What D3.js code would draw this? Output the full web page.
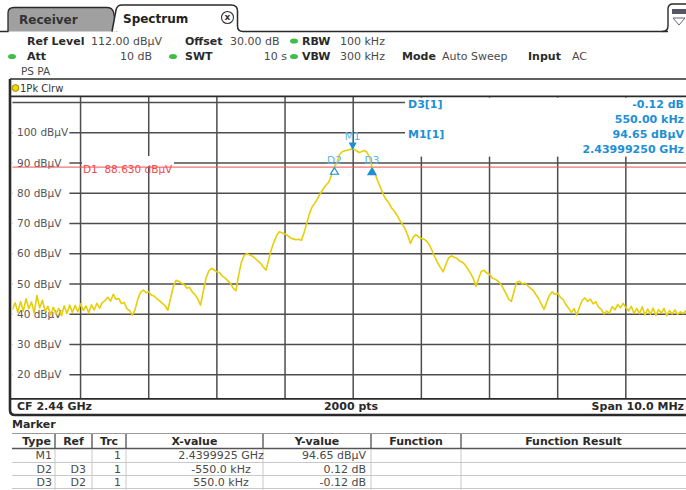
<!DOCTYPE html>
<html><head><meta charset="utf-8">
<script src="https://cdn.jsdelivr.net/npm/d3@7"></script>
<style>
html,body{margin:0;padding:0;background:#fff;overflow:hidden}
svg{display:block;font-family:"DejaVu Sans",Verdana,sans-serif}
text{white-space:pre}
</style></head><body>
<svg id="c" width="686" height="490"></svg>
<script>
// Sweep settings
const centerGHz = 2.44;
const spanMHz = 10;
const refLevel = 112;
const bottomLevel = 12;
const sweepPoints = "2000 pts";

// Level grid and labels (dBµV)
const gridLevels = [110, 100, 90, 80, 70, 60, 50, 40, 30, 20];
const yTickLevels = [100, 90, 80, 70, 60, 50, 40, 30, 20];
const yTickUnit = "dBµV";

// Trace 1 (1Pk Clrw), one value every 40 kHz from CF-5 MHz to CF+5 MHz
const traceDb = [
  41.5,43.8,40.6,44.2,41.0,45.1,41.8,44.0,40.4,46.2,42.1,44.6,40.9,
  42.6,39.8,42.3,40.1,41.9,39.5,42.8,40.2,43.0,
  40.6,42.9,40.8,43.4,41.2,42.7,40.5,43.1,41.4,43.6,42.0,
  43.9,44.5,45.6,44.3,46.6,44.9,45.2,43.5,43.9,41.8,41.2,39.7,
  41.5,45.0,47.2,48.0,
  47.1,47.4,46.3,46.0,45.1,44.4,43.6,42.8,41.3,
  45.2,49.0,51.2,
  50.9,50.2,49.8,48.6,48.9,47.3,46.5,45.0,43.0,
  47.5,51.8,54.3,55.2,
  54.6,54.0,53.7,52.6,52.0,51.1,50.2,48.6,47.8,
  53.0,57.2,59.4,60.1,
  59.6,59.2,58.5,57.6,56.9,55.6,54.6,
  58.0,61.5,64.0,66.2,67.3,
  66.8,66.5,66.0,65.2,64.9,64.6,64.8,64.4,
  67.0,70.1,73.4,75.6,76.8,78.3,80.0,81.4,82.6,83.6,85.8,88.6,90.0,92.8,93.7,94.0,94.3,94.5,
  94.65,
  94.2,93.5,93.7,94.1,93.6,91.8,88.5,86.5,84.0,81.9,79.6,78.0,76.9,75.2,74.2,72.8,71.2,69.8,68.3,66.0,63.4,
  65.4,66.3,65.6,65.0,64.8,64.1,62.8,60.9,58.8,57.0,55.4,54.0,
  56.5,58.6,59.3,58.8,58.5,57.6,57.2,56.4,55.0,53.6,51.9,49.2,
  51.8,54.2,54.5,53.6,53.2,52.0,51.6,51.0,50.1,48.6,46.9,45.0,44.2,
  47.6,50.6,50.9,50.0,50.3,49.4,48.6,47.9,46.5,45.2,43.3,41.6,
  44.0,46.3,47.4,46.5,46.9,45.6,44.8,43.2,42.0,40.6,41.8,39.7,
  42.4,44.6,45.4,44.2,45.0,43.4,44.1,42.3,41.6,40.1,
  41.0,40.3,42.5,41.4,43.2,42.1,43.6,42.2,41.1,42.6,40.3,41.9,40.2,42.4,39.8,41.7,40.0,42.0,39.6,41.5,40.4,41.9,39.5,41.2,40.1,41.4,39.9,40.8,40.2,41.1,39.8,40.7,40.3
];

// Markers
const markerNames  = ["M1", "D2", "D3"];
const markerFreqs  = [2.4399925, 2.439725, 2.440275];   // GHz
const markerLevels = [94.65, 88.75, 88.63];              // dBµV
const markerRefs   = ["", "D3", "D2"];
const markerTrc    = ["1", "1", "1"];
const markerXText  = ["2.4399925 GHz", "-550.0 kHz", "550.0 kHz"];
const markerYText  = ["94.65 dBµV", "0.12 dB", "-0.12 dB"];

// Display line D1
const displayLine = 88.63;
const displayLineText = "D1  88.630 dBµV";

// Marker readout
const readoutLabels = ["D3[1]", "M1[1]"];
const readoutValues = ["-0.12 dB", "550.00 kHz", "94.65 dBµV", "2.43999250 GHz"];

// Marker table header
const tableHeads = ["Type", "Ref", "Trc", "X-value", "Y-value", "Function", "Function Result"];

const svg = d3.select("#c");
const INK = "#2a2a2a", VAL = "#4a4a4a", BLUE = "#1e8fd6", LBLUE = "#5fb2e4";

function txt(x, y, s, o = {}) {
  return svg.append("text").attr("x", x).attr("y", y).attr("dy", "0.36em")
    .attr("font-size", o.size || 11).attr("font-weight", o.bold ? "bold" : "normal")
    .attr("fill", o.fill || VAL).attr("text-anchor", o.anchor || "start").text(s);
}
function dot(x, y) {
  svg.append("ellipse").attr("cx", x).attr("cy", y).attr("rx", 4).attr("ry", 2.6).attr("fill", "#3fbf4a");
}

// ---------- tabs ----------
svg.append("path").attr("d", "M0,31.5 L8,31.5 L8,13 Q8,7.5 14,7.5 L107,7.5 Q112,7.5 113.5,12 L117,31.5")
  .attr("fill", "#a0a0a0").attr("stroke", INK).attr("stroke-width", 1.3);
svg.append("path").attr("d", "M112,31.5 L116,10 Q117,5 122,5 L231,5 Q237.5,5 237.5,11 L237.5,26 Q237.5,31.5 243,31.5 L668,31.5")
  .attr("fill", "#fff").attr("stroke", INK).attr("stroke-width", 1.5);
txt(19, 19.5, "Receiver", {bold: true, size: 12, fill: "#333"});
txt(123, 18.5, "Spectrum", {bold: true, size: 12, fill: "#222"});
svg.append("circle").attr("cx", 227.5).attr("cy", 17.5).attr("r", 6).attr("fill", "#fff").attr("stroke", "#333").attr("stroke-width", 1.1);
txt(227.5, 17, "x", {bold: true, size: 9, anchor: "middle", fill: "#333"});
svg.append("path").attr("d", "M662,31.5 Q668,31.5 668,26 L668,9 Q668,4 673,4 L690,4")
  .attr("fill", "none").attr("stroke", INK).attr("stroke-width", 1.4);
svg.append("rect").attr("x", 672).attr("y", 9).attr("width", 14).attr("height", 5).attr("fill", "#556");
svg.append("path").attr("d", "M673,18 L685,18 L679,25 Z").attr("fill", "none").attr("stroke", "#667").attr("stroke-width", 1);

// ---------- settings rows ----------
txt(27, 41, "Ref Level", {bold: true, fill: INK});
txt(91, 41, "112.00 dBµV");
txt(185, 41, "Offset", {bold: true, fill: INK});
txt(230, 41, "30.00 dB");
dot(294, 41);
txt(302, 41, "RBW", {bold: true, fill: INK});
txt(340, 41, "100 kHz");

dot(12, 56.5);
txt(27, 56.5, "Att", {bold: true, fill: INK});
txt(152, 56.5, "10 dB", {anchor: "end"});
dot(173, 56.5);
txt(185, 56.5, "SWT", {bold: true, fill: INK});
txt(287, 56.5, "10 s", {anchor: "end"});
dot(294, 56.5);
txt(302, 56.5, "VBW", {bold: true, fill: INK});
txt(340, 56.5, "300 kHz");
txt(402, 56.5, "Mode", {bold: true, fill: INK});
txt(442, 56.5, "Auto Sweep");
txt(528, 56.5, "Input", {bold: true, fill: INK});
txt(572, 56.5, "AC");
txt(21, 71, "PS PA", {size: 10.5});

// ---------- plot geometry ----------
const x0 = 12.4, x1 = 694, yTop = 96.4, yBot = 398.9;
const halfSpan = spanMHz / 2000;
const x = d3.scaleLinear().domain([centerGHz - halfSpan, centerGHz + halfSpan]).range([x0, x1]);
const y = d3.scaleLinear().domain([bottomLevel, refLevel]).range([yBot, yTop]);

// trace header strip
svg.append("line").attr("x1", 10).attr("x2", 686).attr("y1", 79).attr("y2", 79).attr("stroke", INK).attr("stroke-width", 1.3);
svg.append("circle").attr("cx", 15.5).attr("cy", 88).attr("r", 3.4).attr("fill", "#f2d600").attr("stroke", "#8a7800").attr("stroke-width", 0.8);
txt(20, 88, "1Pk Clrw", {size: 10, fill: "#333"});

// grid
const grid = svg.append("g").attr("stroke", "#4e4e4e").attr("stroke-width", 1.5);
grid.selectAll("line.h").data(gridLevels).join("line").attr("class", "h")
  .attr("x1", x0).attr("x2", x1).attr("y1", d => y(d)).attr("y2", d => y(d));
const vDivs = d3.range(1, 10).map(k => centerGHz - halfSpan + k * spanMHz / 10000);
grid.selectAll("line.v").data(vDivs).join("line").attr("class", "v")
  .attr("x1", d => x(d)).attr("x2", d => x(d)).attr("y1", yTop).attr("y2", yBot);

// level labels
const yl = svg.append("g");
yTickLevels.forEach(v => {
  yl.append("rect").attr("x", x0).attr("y", y(v) - 6).attr("width", 57).attr("height", 12).attr("fill", "#fff");
  yl.append("text").attr("x", 17).attr("y", y(v)).attr("dy", "0.36em").attr("font-size", 10.5)
    .attr("fill", "#555").text(`${v} ${yTickUnit}`);
});

// display line D1
svg.append("rect").attr("x", 82).attr("y", 156).attr("width", 92).attr("height", 10).attr("fill", "#fff");
svg.append("line").attr("x1", x0).attr("x2", x1).attr("y1", y(displayLine)).attr("y2", y(displayLine))
  .attr("stroke", "#f05050").attr("stroke-width", 1);
txt(83, y(displayLine) + 2, displayLineText, {size: 10.5, fill: "#f04848"});

// trace
svg.append("clipPath").attr("id", "pc").append("rect").attr("x", x0).attr("y", yTop).attr("width", x1 - x0).attr("height", yBot - yTop);
const step = spanMHz / 1000 / (traceDb.length - 1);
const line = d3.line().x((d, i) => x(centerGHz - halfSpan + i * step)).y(d => y(d));
svg.append("path").attr("d", line(traceDb)).attr("clip-path", "url(#pc)")
  .attr("fill", "none").attr("stroke", "#e6cf08").attr("stroke-width", 1.6).attr("stroke-linejoin", "round");

// marker readout box
svg.append("rect").attr("x", 405).attr("y", 97.6).attr("width", 290).attr("height", 59).attr("fill", "#fff");
txt(408, 104.5, readoutLabels[0], {bold: true, fill: BLUE});
txt(408, 134, readoutLabels[1], {bold: true, fill: BLUE});
[104.5, 119.5, 134, 149].forEach((yy, i) => txt(684, yy, readoutValues[i], {bold: true, fill: BLUE, anchor: "end"}));

// marker symbols
markerNames.forEach((name, i) => {
  const mx = x(markerFreqs[i]), my = y(markerLevels[i]);
  if (i === 0) {
    svg.append("path").attr("d", `M${mx - 4},${my - 6.5} L${mx + 4},${my - 6.5} L${mx},${my + 1} Z`).attr("fill", BLUE);
    txt(mx, my - 13, name, {size: 10.5, fill: LBLUE, anchor: "middle"});
  } else {
    svg.append("path").attr("d", `M${mx},${my + 1} L${mx + 4},${my + 7.5} L${mx - 4},${my + 7.5} Z`)
      .attr("fill", i === 1 ? "#fff" : BLUE).attr("stroke", BLUE).attr("stroke-width", 1.2);
    txt(mx, my - 6.5, name, {size: 10.5, fill: LBLUE, anchor: "middle"});
  }
});

// plot frame
svg.append("line").attr("x1", 10).attr("x2", 686).attr("y1", yTop).attr("y2", yTop).attr("stroke", INK).attr("stroke-width", 1.8);
svg.append("line").attr("x1", 10).attr("x2", 686).attr("y1", yBot).attr("y2", yBot).attr("stroke", INK).attr("stroke-width", 1.8);
svg.append("path").attr("d", "M10,79 L10,410 Q10,415 15,415 L686,415").attr("fill", "none").attr("stroke", INK).attr("stroke-width", 2.6);

// status row
txt(17, 406.5, `CF ${centerGHz} GHz`, {bold: true, fill: INK});
txt(351, 406.5, sweepPoints, {bold: true, fill: INK, anchor: "middle"});
txt(684, 406.5, `Span ${spanMHz.toFixed(1)} MHz`, {bold: true, fill: INK, anchor: "end"});

// marker table
txt(12, 424, "Marker", {bold: true, fill: INK});
const colEdges = [12, 55, 92, 126, 263, 371, 461, 686];
svg.append("line").attr("x1", 12).attr("x2", 686).attr("y1", 433.5).attr("y2", 433.5).attr("stroke", "#999").attr("stroke-width", 1);
svg.append("line").attr("x1", 12).attr("x2", 686).attr("y1", 448.5).attr("y2", 448.5).attr("stroke", "#555").attr("stroke-width", 1.5);
[462.5, 475.5, 488.5].forEach(yy => svg.append("line").attr("x1", 12).attr("x2", 686).attr("y1", yy).attr("y2", yy).attr("stroke", "#c8c8c8"));
colEdges.slice(1, -1).forEach(cx => {
  svg.append("line").attr("x1", cx).attr("x2", cx).attr("y1", 434).attr("y2", 448).attr("stroke", "#666").attr("stroke-width", 1.5);
  svg.append("line").attr("x1", cx).attr("x2", cx).attr("y1", 449).attr("y2", 490).attr("stroke", "#c8c8c8");
});
tableHeads.forEach((h, i) => txt((colEdges[i] + colEdges[i + 1]) / 2 + (i === 0 ? 3 : 0), 441.5, h, {bold: true, fill: INK, anchor: "middle"}));
[455.5, 469, 482].forEach((yy, i) => {
  txt(52, yy, markerNames[i], {anchor: "end"});
  txt(86, yy, markerRefs[i], {anchor: "end"});
  txt(121, yy, markerTrc[i], {anchor: "end"});
  txt(221, yy, markerXText[i], {anchor: "middle"});
  txt(366, yy, markerYText[i], {anchor: "end"});
});
</script>
</body></html>
